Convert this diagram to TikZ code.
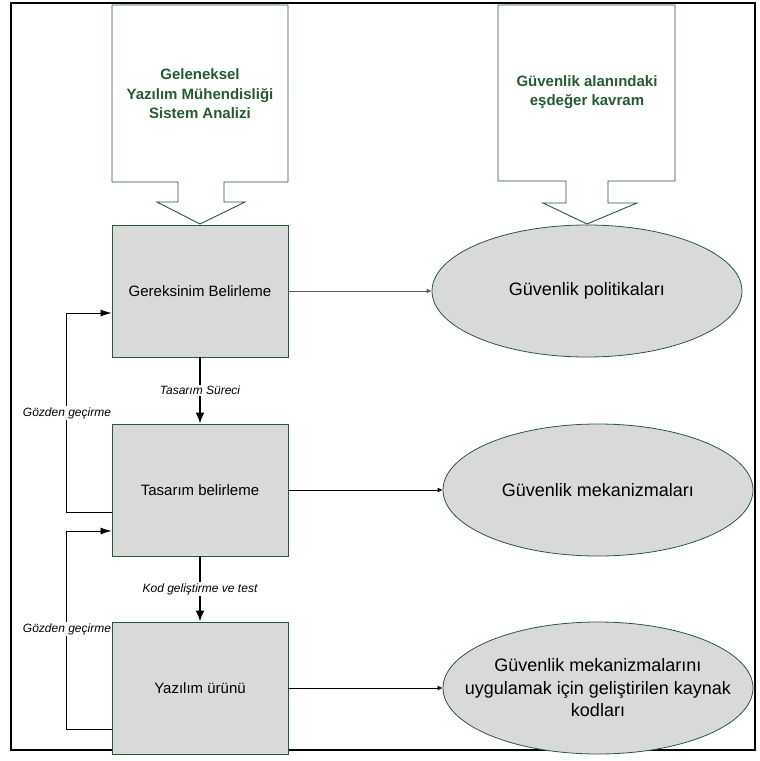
\documentclass[tikz,border=0pt]{standalone}
\usepackage{fontspec}
\setmainfont{Liberation Sans}
\usetikzlibrary{arrows.meta,shapes.geometric}
\definecolor{kenar}{RGB}{40,90,50}
\definecolor{dolgu}{RGB}{217,217,217}
\begin{document}
\begin{tikzpicture}[x=1pt,y=-1pt,
  kutu/.style={draw=kenar,fill=dolgu,line width=0.9pt,minimum width=176pt,minimum height=132pt,font=\fontsize{15}{18}\selectfont},
  elips/.style={ellipse,draw=kenar,fill=dolgu,line width=0.8pt,minimum width=310pt,minimum height=132pt,inner sep=0pt,align=center,font=\fontsize{18}{22.5}\selectfont},
  baslik/.style={text=kenar,align=center,font=\bfseries\fontsize{15}{19.5}\selectfont},
  cagri/.style={draw=kenar,fill=white,line width=0.9pt,line join=miter},
  etiket/.style={fill=white,inner sep=1pt,font=\itshape\fontsize{12}{14}\selectfont},
  ok/.style={-{Latex[length=5pt,width=5pt]},line width=0.8pt},
  akis/.style={-{Latex[length=11pt,width=9pt]},line width=1.8pt},
  geri/.style={-{Latex[length=11pt,width=7pt]},line width=0.8pt}]
\useasboundingbox (0,0) rectangle (760,761);
\draw[line width=1.5pt] (11,3) rectangle (755,750);
% cagri kutulari
\draw[cagri] (112,5) -- (288,5) -- (288,182) -- (224,182) -- (224,202) -- (245,202) -- (200,224)
  -- (157,202) -- (178,202) -- (178,182) -- (112,182) -- cycle;
\draw[cagri] (498,5) -- (675,5) -- (675,181) -- (608,181) -- (608,203) -- (637,203) -- (587,224)
  -- (543,203) -- (566,203) -- (566,181) -- (498,181) -- cycle;
\node[baslik] (yazilim) at (200,94) {Geleneksel\\Yazılım Mühendisliği\\Sistem Analizi};
\node[baslik] (guvenlik) at (587,92) {Güvenlik alanındaki\\eşdeğer kavram};
% adimlar
\node[kutu] (gereksinim) at (200,291) {Gereksinim Belirleme};
\node[kutu] (tasarim) at (200,490) {Tasarım belirleme};
\node[kutu] (urun) at (200,688) {Yazılım ürünü};
\node[elips] (politika) at (587,291) {Güvenlik politikaları};
\node[elips] (mekanizma) at (598,490) {Güvenlik mekanizmaları};
\node[elips,inner xsep=-30pt] (kod) at (598,688) {Güvenlik mekanizmalarını\\uygulamak için geliştirilen kaynak\\kodları};
% oklar
\draw[ok,draw=black!65] (gereksinim) -- (politika);
\draw[ok] (tasarim) -- (mekanizma);
\draw[ok] (urun) -- (kod);
\draw[akis] (gereksinim) -- node[etiket] (surec) {Tasarım Süreci} (tasarim);
\draw[akis] (tasarim) -- node[etiket] (test) {Kod geliştirme ve test} (urun);
\draw[geri] ([yshift=-22pt]tasarim.west) -- ++(-45,0) |- ([yshift=-22pt]gereksinim.west);
\draw[geri] ([yshift=-41pt]urun.west) -- ++(-45,0) |- ([yshift=-41pt]tasarim.west);
\node[etiket] (gozden1) at (67,413) {Gözden geçirme};
\node[etiket] (gozden2) at (67,629) {Gözden geçirme};
\end{tikzpicture}
\end{document}
